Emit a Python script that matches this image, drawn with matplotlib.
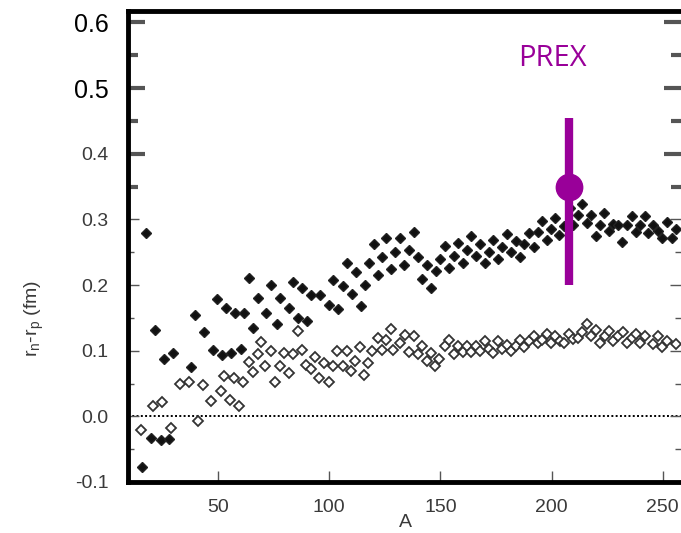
import numpy as np
import matplotlib
matplotlib.use('Agg')
import matplotlib.pyplot as plt

# filled diamonds (A, rn-rp)
A_full = [15.9, 17.8, 20.1, 21.6, 24.2, 25.7, 28.2, 29.7, 38.1, 39.8, 43.8, 47.8, 49.6,
          51.9, 53.7, 56.1, 57.5, 60.4, 61.6, 63.8, 65.8, 67.9, 71.8, 73.7, 76.4, 77.9,
          81.8, 83.9, 85.8, 88.0, 90.1, 92.0, 96.1, 100.1, 101.9, 104.0, 106.1, 108.0,
          110.3, 111.9, 114.2, 116.0, 118.1, 120.0, 122.0, 123.9, 125.5, 128.0, 129.5,
          132.0, 133.8, 136.0, 138.0, 139.8, 141.7, 144.0, 145.9, 148.0, 150.0, 151.9,
          154.0, 156.0, 157.9, 160.0, 162.0, 163.9, 166.0, 167.9, 169.9, 171.7, 173.9,
          176.1, 177.7, 179.9, 181.9, 184.0, 185.9, 187.8, 190.0, 191.9, 193.7, 195.6,
          197.9, 199.7, 201.6, 203.5, 205.5, 208.4, 209.8, 211.8, 213.9, 215.9, 217.8,
          219.9, 221.8, 223.6, 225.9, 227.8, 229.8, 231.8, 233.8, 236.1, 238.0, 239.8,
          242.0, 243.5, 245.8, 247.8, 249.8, 251.8, 254.0, 255.8]
dr_full = [-0.077, 0.279, -0.033, 0.131, -0.036, 0.087, -0.035, 0.096, 0.075, 0.154, 0.129,
           0.101, 0.178, 0.094, 0.165, 0.096, 0.157, 0.102, 0.157, 0.210, 0.135, 0.181,
           0.157, 0.200, 0.140, 0.180, 0.165, 0.205, 0.150, 0.196, 0.146, 0.185, 0.185,
           0.170, 0.207, 0.163, 0.198, 0.234, 0.187, 0.220, 0.168, 0.200, 0.234, 0.263,
           0.216, 0.243, 0.272, 0.224, 0.250, 0.272, 0.231, 0.253, 0.281, 0.243, 0.209,
           0.231, 0.196, 0.221, 0.239, 0.260, 0.226, 0.245, 0.264, 0.234, 0.254, 0.274,
           0.244, 0.263, 0.233, 0.250, 0.268, 0.239, 0.258, 0.278, 0.250, 0.267, 0.242,
           0.263, 0.280, 0.258, 0.281, 0.297, 0.268, 0.285, 0.302, 0.277, 0.290, 0.318,
           0.291, 0.307, 0.324, 0.295, 0.307, 0.274, 0.292, 0.309, 0.282, 0.293, 0.291,
           0.265, 0.291, 0.305, 0.281, 0.292, 0.305, 0.279, 0.292, 0.282, 0.271, 0.296,
           0.271, 0.285]

# open diamonds
A_open = [15.5, 21.0, 24.9, 29.1, 32.8, 37.2, 41.1, 43.2, 47.1, 51.3, 52.8, 55.3, 57.1,
          59.3, 61.1, 63.8, 65.6, 67.9, 69.5, 71.0, 73.8, 75.8, 77.7, 79.8, 81.8, 83.8,
          85.8, 87.9, 89.7, 92.0, 93.8, 95.6, 97.8, 99.8, 101.9, 103.7, 106.1, 108.0,
          110.0, 111.8, 113.7, 115.5, 117.5, 119.5, 122.0, 123.8, 125.7, 127.8, 128.8,
          132.0, 134.0, 135.7, 138.0, 140.0, 141.7, 144.0, 145.8, 147.8, 149.2, 151.9,
          153.7, 156.0, 157.9, 160.0, 162.0, 163.9, 166.0, 167.9, 169.9, 172.0, 173.9,
          175.9, 177.7, 179.9, 181.9, 184.0, 185.9, 187.8, 190.0, 191.9, 193.7, 195.6,
          197.9, 199.7, 201.6, 203.6, 205.7, 208.0, 209.8, 211.8, 213.6, 215.9, 217.8,
          219.9, 221.8, 224.1, 226.0, 227.8, 230.0, 232.0, 233.8, 236.1, 238.0, 239.8,
          242.0, 245.8, 247.8, 249.8, 251.8, 255.8]
dr_open = [-0.021, 0.015, 0.022, -0.017, 0.050, 0.053, -0.007, 0.047, 0.024, 0.039, 0.062,
           0.025, 0.058, 0.015, 0.053, 0.083, 0.068, 0.095, 0.114, 0.077, 0.099, 0.052,
           0.077, 0.097, 0.066, 0.095, 0.130, 0.101, 0.078, 0.072, 0.090, 0.058, 0.082,
           0.053, 0.077, 0.099, 0.077, 0.099, 0.069, 0.084, 0.106, 0.063, 0.082, 0.100,
           0.119, 0.101, 0.117, 0.133, 0.101, 0.112, 0.124, 0.098, 0.122, 0.095, 0.107,
           0.085, 0.097, 0.077, 0.087, 0.107, 0.117, 0.095, 0.107, 0.098, 0.107, 0.098,
           0.107, 0.100, 0.115, 0.102, 0.097, 0.115, 0.102, 0.109, 0.100, 0.107, 0.117,
           0.105, 0.115, 0.122, 0.111, 0.117, 0.125, 0.111, 0.122, 0.115, 0.112, 0.125,
           0.118, 0.119, 0.129, 0.140, 0.122, 0.132, 0.111, 0.122, 0.130, 0.115, 0.122,
           0.129, 0.111, 0.120, 0.125, 0.111, 0.122, 0.110, 0.122, 0.105, 0.115, 0.110]

# PREX measurement
prex_A = 208
prex_val = 0.35
prex_lo = 0.15
prex_hi = 0.105

x_ticks = [50, 100, 150, 200, 250]
y_ticks = [-0.1, 0.0, 0.1, 0.2, 0.3, 0.4, 0.5, 0.6]
y_labels = ['-0.1', '0.0', '0.1', '0.2', '0.3', '0.4', '0.5', '0.6']

purple = '#990099'
grey = '#3a3a3a'

fig = plt.figure(figsize=(6.81, 5.33), dpi=100)
ax = fig.add_axes([0.188, 0.0957, 0.812, 0.8837])

ax.axhline(0, color='black', lw=1.4, ls=(0, (1, 1.2)), zorder=1)

ax.plot(A_open, dr_open, ls='none', marker='D', ms=5.6, mfc='white', mec='#333333',
        mew=1.3, zorder=2)
ax.plot(A_full, dr_full, ls='none', marker='D', ms=5.6, mfc='#111111', mec='#222222',
        mew=1.0, zorder=3)

ax.errorbar([prex_A], [prex_val], yerr=[[prex_lo], [prex_hi]], fmt='o', color=purple,
            ms=19, elinewidth=6, capsize=0, zorder=5)
ax.text(200.5, 0.545, 'PREX', color=purple, fontsize=21, family='Open Sans',
        ha='center', va='center')

ax.set_xlim(9.6, 258.2)
ax.set_ylim(-0.098, 0.6175)

ax.set_xticks(x_ticks)
ax.set_yticks(y_ticks)
ax.set_yticks(np.arange(-0.05, 0.6, 0.1), minor=True)
ax.set_xticklabels([str(v) for v in x_ticks], fontsize=14, family='Liberation Sans', color=grey)
ax.set_yticklabels(y_labels, fontsize=14, family='Liberation Sans', color=grey)
for lab in ax.get_yticklabels()[-2:]:
    lab.set_color('black')
    lab.set_fontsize(18)

ax.tick_params(axis='both', which='both', direction='in', color='#555555', width=1.0)
ax.tick_params(axis='y', which='major', length=8, pad=14, right=True)
ax.tick_params(axis='y', which='minor', length=4, right=True)
ax.tick_params(axis='x', which='major', length=8, pad=12)

# the pasted-in upper part of the axis has heavier black ticks
for t, v in zip(ax.yaxis.get_major_ticks(), y_ticks):
    if v >= 0.35:
        for ln in (t.tick1line, t.tick2line):
            ln.set_color('black')
            ln.set_markeredgewidth(3)
            ln.set_markersize(12)
for t, v in zip(ax.yaxis.get_minor_ticks(), np.arange(-0.05, 0.6, 0.1)):
    if v >= 0.35:
        for ln in (t.tick1line, t.tick2line):
            ln.set_color('black')
            ln.set_markeredgewidth(3)
            ln.set_markersize(7)

for s in ['left', 'bottom', 'top']:
    ax.spines[s].set_linewidth(3.5)
    ax.spines[s].set_color('black')
ax.spines['right'].set_visible(False)

fig.text(0.05, 0.403, r'r$_\mathregular{n}$-r$_\mathregular{p}$ (fm)', rotation=90,
         fontsize=14, family='Liberation Sans', color=grey, ha='center', va='center')
fig.text(0.595, 0.004, 'A', fontsize=14, family='Liberation Sans', color=grey,
         ha='center', va='bottom')

fig.savefig('out.png', dpi=100)
